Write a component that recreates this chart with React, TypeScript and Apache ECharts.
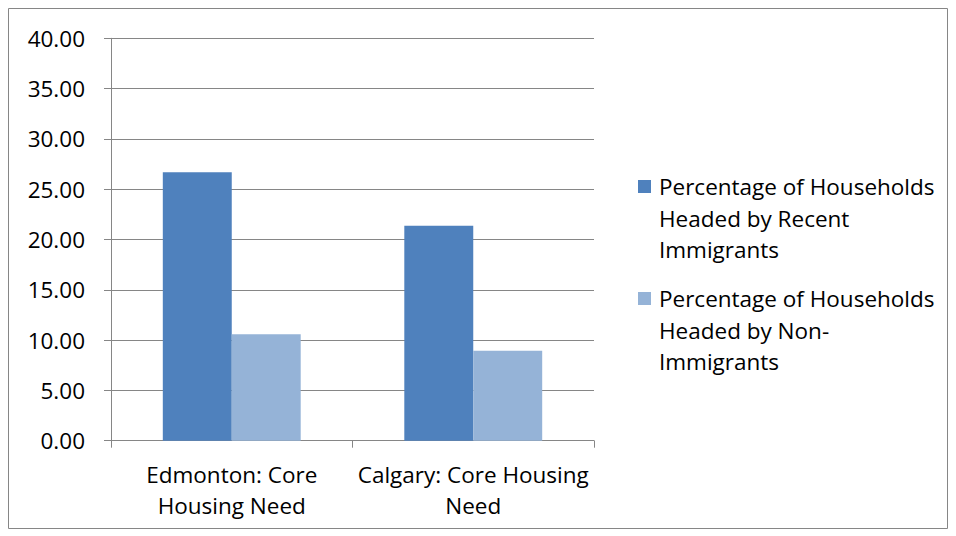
import React, { useEffect, useRef } from "react";
import * as echarts from "echarts";

const categories = ["Edmonton: Core Housing Need", "Calgary: Core Housing Need"];
const categoryLabels = ["Edmonton: Core\nHousing Need", "Calgary: Core Housing\nNeed"];
const seriesNames = [
  "Percentage of Households Headed by Recent Immigrants",
  "Percentage of Households Headed by Non-Immigrants",
];
const legendLabels = [
  "Percentage of Households\nHeaded by Recent\nImmigrants",
  "Percentage of Households\nHeaded by Non-\nImmigrants",
];
const recentImmigrants = [26.68, 21.37];
const nonImmigrants = [10.58, 8.95];
const colors = ["#4F81BD", "#95B3D7"];

const FONT = "'Open Sans', sans-serif";
const FS = 22.5;
const GRAY = "#868686";

export default function App() {
  const ref = useRef<HTMLDivElement>(null);
  useEffect(() => {
    document.body.style.margin = "0";
    const chart = echarts.init(ref.current!, null, { renderer: "svg" });
    const legendTops = [171, 283];
    chart.setOption({
      animation: false,
      backgroundColor: "#fff",
      textStyle: { fontFamily: FONT },
      grid: { left: 111, top: 38.3, right: 362, bottom: 95.3, containLabel: false },
      xAxis: {
        type: "category",
        data: categories,
        axisLine: { show: true, lineStyle: { color: GRAY, width: 1 } },
        axisTick: { show: true, length: 7, lineStyle: { color: GRAY } },
        axisLabel: {
          interval: 0,
          margin: 18,
          color: "#000",
          fontFamily: FONT,
          fontSize: FS,
          lineHeight: 31.5,
          formatter: (_v: string, i: number) => categoryLabels[i],
        },
      },
      yAxis: {
        type: "value",
        min: 0,
        max: 40,
        interval: 5,
        axisLine: { show: true, lineStyle: { color: GRAY, width: 1 } },
        axisTick: { show: true, length: 7, lineStyle: { color: GRAY } },
        splitLine: { show: true, lineStyle: { color: GRAY, width: 1 } },
        axisLabel: {
          margin: 26,
          color: "#000",
          fontFamily: FONT,
          fontSize: FS,
          formatter: (v: number) => v.toFixed(2),
        },
      },
      series: [
        {
          name: seriesNames[0],
          type: "bar",
          data: recentImmigrants,
          itemStyle: { color: colors[0] },
          barGap: "0%",
          barCategoryGap: "42.9%",
        },
        {
          name: seriesNames[1],
          type: "bar",
          data: nonImmigrants,
          itemStyle: { color: colors[1] },
          barGap: "0%",
          barCategoryGap: "42.9%",
        },
      ],
      graphic: [
        {
          type: "rect",
          shape: { x: 8.5, y: 8.5, width: 939, height: 520 },
          style: { fill: "none", stroke: GRAY, lineWidth: 1 },
          silent: true,
        },
        ...legendLabels.flatMap((label, i) => [
          {
            type: "rect",
            shape: { x: 638, y: legendTops[i] + 9, width: 13, height: 13 },
            style: { fill: colors[i] },
          },
          {
            type: "text",
            x: 659,
            y: legendTops[i],
            style: {
              text: label,
              fill: "#000",
              font: `${FS}px ${FONT}`,
              lineHeight: 31.5,
              textVerticalAlign: "top",
            },
          },
        ]),
      ],
    });
    return () => chart.dispose();
  }, []);
  return <div ref={ref} style={{ width: 956, height: 536 }} />;
}
